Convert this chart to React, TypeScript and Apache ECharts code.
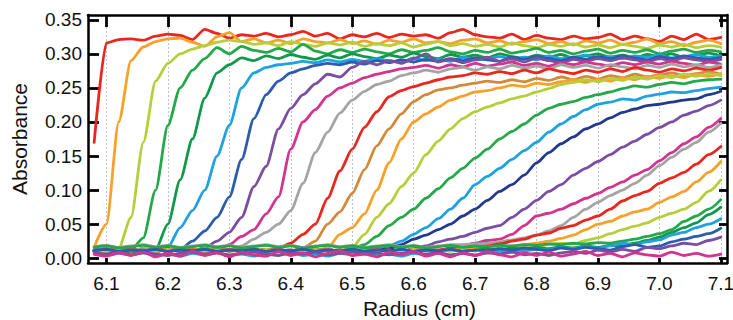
import React, { useEffect, useRef } from "react";
import * as echarts from "echarts";

// Radius grid (cm)
const RADIUS = [
  6.08, 6.10, 6.12, 6.14, 6.16, 6.18, 6.20, 6.22, 6.24, 6.26,
  6.28, 6.30, 6.32, 6.34, 6.36, 6.38, 6.40, 6.42, 6.44, 6.46,
  6.48, 6.50, 6.52, 6.54, 6.56, 6.58, 6.60, 6.62, 6.64, 6.66,
  6.68, 6.70, 6.72, 6.74, 6.76, 6.78, 6.80, 6.82, 6.84, 6.86,
  6.88, 6.90, 6.92, 6.94, 6.96, 6.98, 7.00, 7.02, 7.04, 7.06,
  7.08, 7.10,
];

// Axis ranges and ticks
const X_RANGE = [6.07, 7.11];
const Y_RANGE = [-0.007, 0.357];
const X_TICKS = [6.1, 6.2, 6.3, 6.4, 6.5, 6.6, 6.7, 6.8, 6.9, 7.0, 7.1];
const Y_TICKS = [0, 0.05, 0.1, 0.15, 0.2, 0.25, 0.3, 0.35];
const X_TICK_STEP = 0.1;
const Y_TICK_STEP = 0.05;

// Absorbance scans
const scan01 = [.17,.316,.321,.322,.320,.326,.329,.327,.321,.336,.330,.323,.328,.326,.330,.325,.328,.333,.326,.330,.322,.328,.325,.330,.324,.329,.326,.328,.323,.331,.336,.328,.325,.323,.329,.321,.327,.323,.321,.326,.322,.324,.329,.321,.326,.322,.318,.326,.321,.329,.321,.324];
const scan02 = [.016,.050,.200,.290,.310,.318,.322,.323,.317,.311,.325,.331,.318,.322,.316,.320,.315,.322,.318,.316,.321,.315,.319,.314,.320,.317,.322,.316,.318,.315,.320,.322,.316,.319,.314,.318,.321,.315,.318,.313,.319,.316,.320,.314,.317,.322,.315,.318,.312,.317,.320,.315];
const scan03 = [.012,.012,.015,.060,.170,.260,.286,.300,.307,.312,.317,.320,.318,.314,.316,.312,.318,.314,.311,.316,.313,.317,.311,.315,.312,.316,.310,.314,.318,.312,.315,.311,.314,.310,.316,.312,.309,.314,.311,.315,.310,.313,.309,.314,.311,.308,.313,.310,.314,.309,.312,.310];
const scan04 = [.010,.009,.011,.012,.030,.100,.195,.250,.276,.293,.309,.300,.311,.305,.302,.308,.303,.314,.304,.300,.306,.302,.307,.303,.300,.306,.302,.305,.309,.303,.300,.305,.302,.307,.301,.304,.308,.302,.305,.300,.304,.307,.301,.305,.302,.306,.300,.304,.307,.302,.305,.303];
const scan05 = [.011,.010,.012,.009,.011,.013,.050,.115,.175,.235,.272,.284,.294,.290,.297,.293,.299,.295,.292,.298,.294,.300,.296,.293,.298,.295,.301,.296,.293,.299,.295,.298,.294,.300,.296,.293,.298,.295,.299,.294,.297,.300,.295,.298,.294,.299,.296,.300,.295,.298,.301,.297];
const scan06 = [.013,.012,.010,.013,.011,.014,.016,.045,.070,.100,.150,.195,.250,.272,.280,.284,.286,.289,.287,.291,.288,.292,.289,.293,.290,.288,.294,.290,.292,.289,.295,.291,.293,.296,.292,.295,.291,.297,.293,.295,.298,.294,.296,.293,.297,.295,.298,.294,.296,.299,.295,.297];
const scan07 = [.012,.014,.011,.013,.010,.012,.011,.013,.025,.040,.060,.090,.145,.205,.240,.260,.272,.278,.283,.286,.284,.288,.285,.290,.287,.291,.288,.292,.289,.293,.290,.294,.291,.289,.295,.292,.296,.293,.290,.295,.292,.296,.293,.297,.294,.291,.296,.293,.297,.294,.292,.295];
const scan08 = [.010,.012,.014,.011,.013,.010,.012,.014,.011,.015,.025,.038,.060,.105,.135,.190,.220,.240,.256,.270,.266,.280,.289,.284,.290,.286,.293,.300,.288,.292,.287,.291,.295,.289,.293,.288,.294,.290,.287,.292,.289,.293,.290,.294,.291,.288,.293,.290,.294,.291,.289,.292];
const scan09 = [.012,.010,.013,.011,.014,.012,.010,.013,.011,.012,.012,.020,.032,.042,.065,.090,.160,.200,.218,.238,.250,.257,.265,.270,.274,.278,.280,.283,.279,.284,.281,.286,.282,.285,.288,.283,.286,.282,.287,.284,.288,.285,.282,.287,.284,.288,.285,.289,.286,.283,.288,.285];
const scan10 = [.011,.013,.010,.012,.014,.011,.013,.010,.012,.014,.011,.012,.018,.028,.038,.050,.070,.110,.155,.185,.213,.232,.245,.255,.260,.268,.272,.276,.273,.278,.280,.276,.281,.278,.283,.279,.282,.278,.284,.280,.283,.279,.284,.281,.278,.283,.280,.285,.281,.284,.280,.284];
const scan11 = [.010,.012,.011,.013,.010,.012,.014,.011,.013,.010,.012,.011,.013,.010,.011,.015,.022,.035,.050,.088,.128,.160,.192,.215,.237,.246,.252,.257,.262,.266,.268,.272,.270,.274,.271,.276,.272,.278,.274,.271,.276,.273,.278,.274,.280,.276,.273,.278,.275,.279,.276,.280];
const scan12 = [.011,.013,.010,.012,.011,.013,.010,.012,.014,.011,.013,.010,.012,.011,.013,.010,.011,.015,.025,.050,.068,.095,.130,.165,.190,.212,.230,.240,.247,.250,.254,.257,.260,.258,.262,.259,.264,.261,.266,.262,.267,.263,.268,.265,.270,.266,.269,.272,.268,.271,.274,.270];
const scan13 = [.012,.010,.013,.011,.012,.010,.013,.011,.012,.010,.013,.011,.012,.010,.013,.011,.012,.010,.011,.015,.035,.045,.065,.100,.140,.175,.200,.212,.222,.232,.238,.244,.246,.250,.254,.252,.257,.255,.259,.262,.258,.263,.260,.265,.262,.267,.264,.268,.265,.270,.267,.271];
const scan14 = [.011,.013,.010,.012,.011,.013,.010,.012,.011,.013,.010,.012,.011,.013,.010,.012,.011,.013,.010,.012,.011,.016,.035,.060,.080,.105,.125,.152,.172,.190,.205,.215,.222,.228,.234,.238,.244,.249,.255,.258,.262,.259,.264,.261,.266,.263,.268,.265,.270,.267,.271,.268];
const scan15 = [.010,.012,.011,.013,.010,.012,.011,.013,.010,.012,.011,.013,.010,.012,.011,.013,.010,.012,.011,.013,.010,.014,.020,.032,.048,.060,.072,.088,.102,.118,.132,.147,.160,.175,.186,.197,.210,.220,.226,.230,.236,.240,.244,.249,.253,.251,.255,.258,.256,.260,.262,.263];
const scan16 = [.012,.010,.013,.011,.012,.010,.013,.011,.012,.010,.013,.011,.012,.010,.013,.011,.012,.010,.013,.011,.012,.010,.013,.014,.018,.025,.035,.045,.058,.072,.088,.108,.120,.132,.145,.158,.170,.185,.197,.208,.218,.226,.229,.234,.232,.238,.241,.244,.243,.246,.249,.251];
const scan17 = [.011,.013,.010,.012,.011,.013,.010,.012,.011,.013,.010,.012,.011,.013,.010,.012,.011,.013,.010,.012,.011,.013,.010,.012,.014,.020,.028,.034,.042,.050,.062,.072,.085,.098,.108,.122,.140,.155,.168,.178,.190,.197,.206,.214,.219,.224,.226,.229,.232,.234,.240,.245];
const scan18 = [.012,.010,.013,.011,.012,.010,.013,.011,.012,.010,.013,.011,.012,.010,.013,.011,.012,.010,.013,.011,.012,.010,.013,.011,.012,.010,.014,.018,.024,.028,.032,.038,.044,.048,.060,.072,.085,.098,.108,.122,.132,.142,.152,.163,.172,.182,.192,.200,.210,.216,.224,.232];
const scan19 = [.010,.012,.011,.013,.010,.012,.011,.013,.010,.012,.011,.013,.010,.012,.011,.013,.010,.012,.011,.013,.010,.012,.011,.013,.010,.012,.011,.013,.012,.015,.018,.022,.026,.028,.035,.048,.062,.066,.072,.080,.088,.095,.104,.112,.122,.130,.143,.155,.168,.178,.192,.205];
const scan20 = [.017,.019,.016,.018,.020,.017,.019,.016,.018,.020,.017,.019,.016,.018,.020,.017,.019,.016,.018,.020,.017,.019,.016,.018,.020,.017,.019,.016,.018,.020,.020,.021,.022,.024,.027,.030,.034,.040,.048,.060,.072,.082,.092,.100,.110,.122,.136,.148,.160,.170,.185,.198];
const scan21 = [.012,.010,.013,.011,.012,.010,.013,.011,.012,.010,.013,.011,.012,.010,.013,.011,.012,.010,.013,.011,.012,.010,.013,.011,.012,.010,.013,.011,.012,.014,.013,.016,.018,.021,.025,.028,.034,.037,.044,.048,.056,.062,.072,.084,.092,.098,.110,.118,.126,.138,.152,.164];
const scan22 = [.011,.013,.010,.012,.011,.013,.010,.012,.011,.013,.010,.012,.011,.013,.010,.012,.011,.013,.010,.012,.011,.013,.010,.012,.011,.013,.010,.012,.011,.013,.012,.014,.013,.016,.018,.020,.022,.025,.029,.034,.042,.050,.054,.062,.068,.072,.082,.090,.098,.112,.126,.142];
const scan23 = [.012,.010,.013,.011,.012,.010,.013,.011,.012,.010,.013,.011,.012,.010,.013,.011,.012,.010,.013,.011,.012,.010,.013,.011,.012,.010,.013,.011,.012,.010,.013,.011,.014,.012,.015,.017,.016,.020,.022,.021,.026,.030,.036,.042,.047,.052,.060,.066,.072,.082,.098,.115];
const scan24 = [.016,.018,.015,.017,.019,.016,.018,.015,.017,.019,.016,.018,.015,.017,.019,.016,.018,.015,.017,.019,.016,.018,.015,.017,.019,.016,.018,.015,.017,.019,.016,.018,.017,.019,.018,.020,.019,.021,.020,.022,.021,.023,.022,.025,.028,.032,.036,.042,.054,.062,.072,.086];
const scan25 = [.011,.013,.010,.012,.011,.013,.010,.012,.011,.013,.010,.012,.011,.013,.010,.012,.011,.013,.010,.012,.011,.013,.010,.012,.011,.013,.010,.012,.011,.013,.010,.012,.014,.012,.015,.013,.016,.014,.017,.015,.018,.016,.019,.018,.022,.026,.031,.038,.045,.052,.064,.075];
const scan26 = [.006,.004,.007,.005,.008,.004,.006,.003,.007,.005,.008,.004,.006,.003,.007,.005,.008,.004,.006,.003,.007,.005,.008,.004,.006,.003,.007,.005,.008,.004,.007,.005,.008,.010,.009,.011,.013,.012,.016,.014,.017,.015,.018,.022,.020,.024,.027,.034,.038,.045,.050,.058];
const scan27 = [.011,.013,.010,.012,.011,.013,.010,.012,.011,.013,.010,.012,.011,.013,.010,.012,.011,.013,.010,.012,.011,.013,.010,.012,.011,.013,.010,.012,.011,.013,.010,.012,.011,.014,.012,.015,.013,.011,.015,.013,.016,.014,.012,.017,.020,.016,.018,.024,.028,.032,.036,.044];
const scan28 = [.008,.006,.009,.005,.008,.006,.004,.007,.009,.006,.008,.005,.007,.009,.006,.004,.008,.006,.009,.005,.007,.009,.006,.008,.005,.007,.009,.006,.008,.005,.007,.004,.008,.006,.009,.005,.007,.004,.008,.010,.007,.012,.009,.013,.010,.016,.014,.018,.022,.020,.026,.031];
const scan29 = [.006,.003,.008,.004,.009,.002,.007,.003,.010,.004,.008,.002,.009,.005,.003,.010,.004,.008,.002,.007,.011,.004,.006,.002,.009,.005,.010,.003,.007,.002,.008,.004,.010,.005,.002,.008,.004,.009,.003,.006,.010,.004,.007,.002,.008,.005,.003,.009,.004,.007,.003,.006];

const SCANS = [
  scan01, scan02, scan03, scan04, scan05, scan06, scan07, scan08, scan09, scan10,
  scan11, scan12, scan13, scan14, scan15, scan16, scan17, scan18, scan19, scan20,
  scan21, scan22, scan23, scan24, scan25, scan26, scan27, scan28, scan29,
];

const RED = "#e8271f";
const ORANGE = "#f7a12b";
const YGREEN = "#b7cd3b";
const GREEN = "#25a84a";
const GREEN2 = "#12984a";
const LBLUE = "#1fa2e0";
const BLUE = "#2d5cab";
const NAVY = "#22398c";
const PURPLE = "#7a4ea2";
const MAGENTA = "#d2358e";
const GREY = "#a4a4a4";
const BROWN = "#d3893b";

const COLORS = [
  RED, ORANGE, YGREEN, GREEN, GREEN2, LBLUE, BLUE, PURPLE, MAGENTA, GREY,
  RED, BROWN, ORANGE, YGREEN, GREEN, LBLUE, NAVY, PURPLE, MAGENTA, GREY,
  RED, ORANGE, YGREEN, GREEN, GREEN2, LBLUE, BLUE, PURPLE, MAGENTA,
];

const FONT = "'Liberation Sans', Arial, Helvetica, sans-serif";

// plot frame in pixels
const W = 733;
const H = 320;
const PLOT_L = 88;
const PLOT_R = 727;
const PLOT_T = 15;
const PLOT_B = 263;

export default function App() {
  const ref = useRef<HTMLDivElement>(null);

  useEffect(() => {
    document.body.style.margin = "0";
    if (!ref.current) return;
    const chart = echarts.init(ref.current, undefined, { renderer: "svg" });

    const xSpan = X_RANGE[1] - X_RANGE[0];
    const ySpan = Y_RANGE[1] - Y_RANGE[0];
    const plotW = PLOT_R - PLOT_L;
    const plotH = PLOT_B - PLOT_T;
    const xPx = (r: number) => PLOT_L + ((r - X_RANGE[0]) / xSpan) * plotW;
    const yPx = (v: number) => PLOT_T + ((Y_RANGE[1] - v) / ySpan) * plotH;

    const lineSeries = SCANS.map((vals, i) => ({
      type: "line",
      name: "scan " + (i + 1),
      xAxisIndex: 0,
      yAxisIndex: 0,
      data: RADIUS.map((r, j) => [r, vals[j]]),
      showSymbol: false,
      smooth: 0.25,
      smoothMonotone: "x",
      z: 3,
      lineStyle: { color: COLORS[i], width: 2.8, cap: "round", join: "round" },
      itemStyle: { color: COLORS[i] },
      emphasis: { disabled: true },
      silent: true,
    }));

    const frameLine = { show: true, onZero: false, lineStyle: { color: "#000", width: 2.5 } };
    const labelStyle = { fontSize: 19, fontFamily: FONT, color: "#111" };
    const tickLine = { color: "#000", width: 2.8 };
    const fixedGrid = { containLabel: false, outerBoundsMode: "none" };

    chart.setOption({
      animation: false,
      grid: [
        { ...fixedGrid, left: PLOT_L, right: W - PLOT_R, top: PLOT_T, bottom: H - PLOT_B },
        { ...fixedGrid, left: PLOT_L, right: W - PLOT_R, top: yPx(Y_TICKS[Y_TICKS.length - 1]), bottom: H - yPx(Y_TICKS[0]) },
        { ...fixedGrid, left: xPx(X_TICKS[0]), right: W - xPx(X_TICKS[X_TICKS.length - 1]), top: PLOT_T, bottom: H - PLOT_B },
      ],
      xAxis: [
        {
          gridIndex: 0, type: "value", min: X_RANGE[0], max: X_RANGE[1], position: "bottom",
          axisLine: frameLine, axisTick: { show: false }, axisLabel: { show: false }, splitLine: { show: false },
          name: "Radius (cm)", nameLocation: "middle", nameGap: 35,
          nameTextStyle: { fontSize: 21, fontFamily: FONT, color: "#111", padding: [0, 0, 0, 24] },
        },
        {
          gridIndex: 0, type: "value", min: X_RANGE[0], max: X_RANGE[1], position: "top",
          axisLine: frameLine, axisTick: { show: false }, axisLabel: { show: false }, splitLine: { show: false },
        },
        {
          gridIndex: 2, type: "value", min: X_TICKS[0], max: X_TICKS[X_TICKS.length - 1], interval: X_TICK_STEP,
          position: "bottom",
          axisLine: { show: false, onZero: false },
          axisTick: { show: true, inside: true, length: 5, lineStyle: tickLine },
          axisLabel: { ...labelStyle, margin: 11, formatter: (v: number) => v.toFixed(1) },
          splitLine: { show: true, lineStyle: { color: "#b9c3cf", type: [2, 2], width: 1 } },
        },
        {
          gridIndex: 2, type: "value", min: X_TICKS[0], max: X_TICKS[X_TICKS.length - 1], interval: X_TICK_STEP,
          position: "top",
          axisLine: { show: false, onZero: false },
          axisTick: { show: true, inside: true, length: 12, lineStyle: tickLine },
          axisLabel: { show: false },
          splitLine: { show: false },
        },
        { gridIndex: 1, type: "value", min: 0, max: 1, show: false },
      ],
      yAxis: [
        {
          gridIndex: 0, type: "value", min: Y_RANGE[0], max: Y_RANGE[1], position: "left",
          axisLine: frameLine, axisTick: { show: false }, axisLabel: { show: false }, splitLine: { show: false },
          name: "Absorbance", nameLocation: "middle", nameGap: 58,
          nameTextStyle: { fontSize: 21, fontFamily: FONT, color: "#111" },
        },
        {
          gridIndex: 0, type: "value", min: Y_RANGE[0], max: Y_RANGE[1], position: "right",
          axisLine: frameLine, axisTick: { show: false }, axisLabel: { show: false }, splitLine: { show: false },
        },
        {
          gridIndex: 1, type: "value", min: Y_TICKS[0], max: Y_TICKS[Y_TICKS.length - 1], interval: Y_TICK_STEP,
          position: "left",
          axisLine: { show: false, onZero: false },
          axisTick: { show: true, inside: true, length: 11, lineStyle: tickLine },
          axisLabel: { ...labelStyle, margin: 6, formatter: (v: number) => v.toFixed(2) },
          splitLine: { show: false },
        },
        {
          gridIndex: 1, type: "value", min: Y_TICKS[0], max: Y_TICKS[Y_TICKS.length - 1], interval: Y_TICK_STEP,
          position: "right",
          axisLine: { show: false, onZero: false },
          axisTick: { show: true, inside: true, length: 8, lineStyle: tickLine },
          axisLabel: { show: false },
          splitLine: { show: false },
        },
        { gridIndex: 2, type: "value", min: 0, max: 1, show: false },
      ],
      series: lineSeries,
    });

    return () => chart.dispose();
  }, []);

  return <div ref={ref} style={{ width: W, height: H }} />;
}
